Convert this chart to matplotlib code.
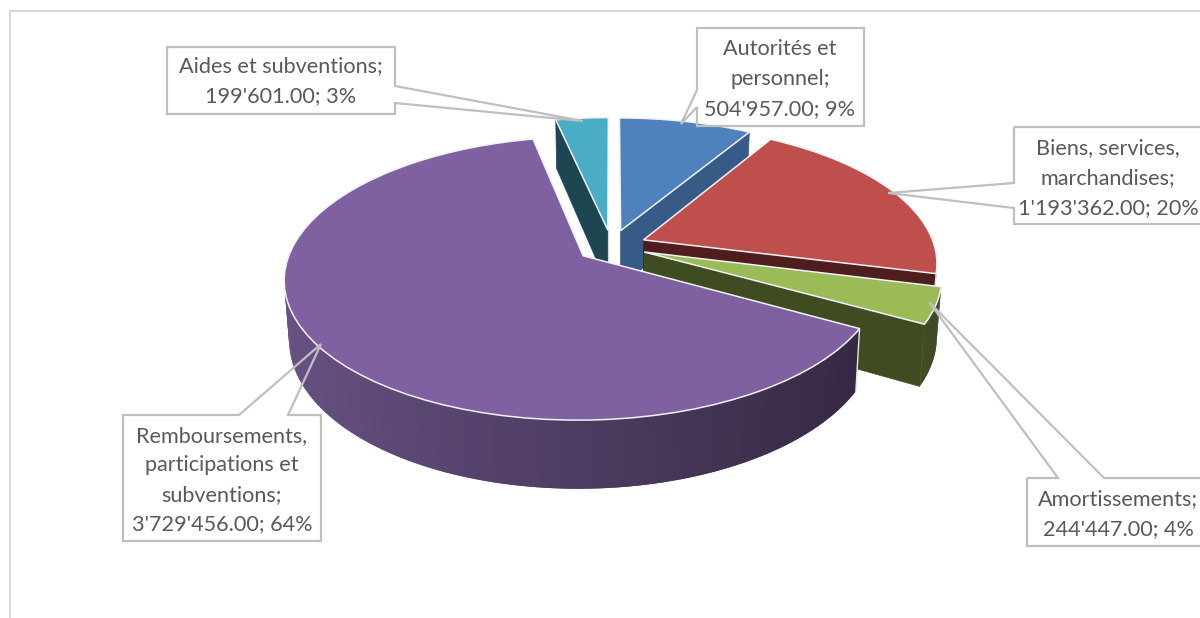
import numpy as np
import matplotlib
matplotlib.use('Agg')
import matplotlib.pyplot as plt
from matplotlib.patches import Polygon
from matplotlib.transforms import Transform

plt.rcParams['font.family'] = ['Lato', 'DejaVu Sans']

# data
categories = ['Autorités et\npersonnel', 'Biens, services,\nmarchandises', 'Amortissements',
              'Remboursements,\nparticipations et\nsubventions', 'Aides et subventions']
values = [504957.00, 1193362.00, 244447.00, 3729456.00, 199601.00]

top_colors = ['#4F81BD', '#BE4F4C', '#9BBB59', '#7F60A0', '#4AACC5']
cut_colors = ['#375A86', '#4F1D1D', '#3F4B20', '#3F3050', '#1D4652']
rim_colors = [(79, 129, 189), (192, 80, 77), (155, 187, 89), (128, 100, 162), (75, 172, 198)]

CX, CY = 611.5, 246   # pie centre, pixels
RX, RY = 291, 135     # radius on screen
P = 0.158             # perspective strength
DEPTH = 57            # height of the extrusion
SHRINK = 0.985        # bottom of the walls pulls towards the centre


def tilt(x, y):
    w = 1 + P * y
    return CX + RX * x / w, CY - RY * y / w


def depth_at(y):
    return DEPTH / (1 + P * y)


def bottom_x(px):
    return CX + (px - CX) * SHRINK


class TiltTransform(Transform):
    input_dims = 2
    output_dims = 2

    def transform_non_affine(self, xy):
        xy = np.asarray(xy)
        px, py = tilt(xy[:, 0], xy[:, 1])
        return np.column_stack([px, py])


fig = plt.figure(figsize=(12, 6.18), dpi=100)
ax = fig.add_axes([0, 0, 1, 1])

wedges, _ = ax.pie(values, colors=top_colors, startangle=90, counterclock=False,
                   explode=[0.12] * len(values), radius=1,
                   wedgeprops={'edgecolor': '#F2F2F6', 'linewidth': 1.1})
ax.set_aspect('auto')
ax.set_xlim(0, 1200)
ax.set_ylim(618, 0)
ax.axis('off')


def cut_wall(center, theta, color, z):
    # flat side of a slice, from the tip to the rim
    t = np.radians(theta)
    xs = np.array([center[0], center[0] + np.cos(t)])
    ys = np.array([center[1], center[1] + np.sin(t)])
    px, py = tilt(xs, ys)
    d = depth_at(ys)
    pts = [(px[0], py[0]), (px[1], py[1]), (bottom_x(px[1]), py[1] + d[1]), (bottom_x(px[0]), py[0] + d[0])]
    ax.add_patch(Polygon(pts, closed=True, facecolor=color, edgecolor=color, linewidth=0.5, zorder=z))


def rim_wall(center, t1, t2, rgb, z):
    # outer rim, only the part that faces the viewer, shaded from left to right
    angles = np.radians(np.linspace(t1, t2, int(t2 - t1) + 2))
    angles = angles[np.sin(angles) < 0]
    if len(angles) < 2:
        return
    xs = center[0] + np.cos(angles)
    ys = center[1] + np.sin(angles)
    px, py = tilt(xs, ys)
    d = depth_at(ys)
    qx = bottom_x(px)
    for i in range(len(angles) - 1):
        # each piece reaches under the next one, so no seams show
        j = min(i + 2, len(angles) - 1)
        shade = 0.60 - 0.22 * np.cos(angles[i])
        color = tuple(c * shade / 255 for c in rgb)
        pts = [(px[i], py[i]), (px[j], py[j]), (qx[j], py[j] + d[j]), (qx[i], py[i] + d[i])]
        ax.add_patch(Polygon(pts, closed=True, facecolor=color, edgecolor='none', zorder=z))
    # light edge on the front corner of the rim
    if t2 - t1 > 15:
        i = int(np.argmin(np.sin(angles[[0, -1]]))) * -1
        ax.plot([px[i], qx[i]], [py[i], py[i] + d[i]], color='#E6E6EA', lw=1.0, zorder=z + 0.1)


# back to front
order = sorted(range(len(wedges)), key=lambda i: -wedges[i].center[1])
tilt_tr = TiltTransform() + ax.transData
for n, i in enumerate(order):
    w = wedges[i]
    z = 2 * n + 2
    if np.cos(np.radians(w.theta1)) > 1e-6:
        cut_wall(w.center, w.theta1, cut_colors[i], z)
    if np.cos(np.radians(w.theta2)) < -1e-6:
        cut_wall(w.center, w.theta2, cut_colors[i], z)
    rim_wall(w.center, w.theta1, w.theta2, rim_colors[i], z)
    w.set_transform(tilt_tr)
    w.set_zorder(z + 1)

# chart frame
ax.plot([1200, 10, 10], [11, 11, 618], color='#D9D9D9', lw=1.5, zorder=1, clip_on=False)

# callouts: box outline with the pointer built in
callouts = [
    [(697, 28), (864, 28), (864, 126), (697, 126), (697, 107), (681, 124), (697, 90)],
    [(1014, 127), (1215, 127), (1215, 224), (1014, 224), (1014, 208), (888, 193), (1014, 183)],
    [(1027, 478), (1058, 478), (929, 302), (1104, 478), (1215, 478), (1215, 546), (1027, 546)],
    [(123, 415), (239, 415), (321, 344), (288, 415), (321, 415), (321, 541), (123, 541)],
    [(167, 47), (395, 47), (395, 86), (583, 121), (395, 103), (395, 114), (167, 114)],
]
text_pos = [(780, 79), (1108, 178), (1118, 514), (222, 480), (281, 81)]

total = sum(values)
for name, val, shape, pos in zip(categories, values, callouts, text_pos):
    ax.add_patch(Polygon(shape, closed=True, facecolor='none', edgecolor='#BFBFBF', linewidth=1.6, zorder=30))
    amount = f'{val:,.2f}'.replace(',', "'")
    label = f'{name};\n{amount}; {round(val / total * 100)}%'
    ax.text(pos[0], pos[1], label, ha='center', va='center', multialignment='center',
            fontsize=15.6, color='#595959', linespacing=1.6, zorder=31)

fig.savefig('out.png', dpi=100)
